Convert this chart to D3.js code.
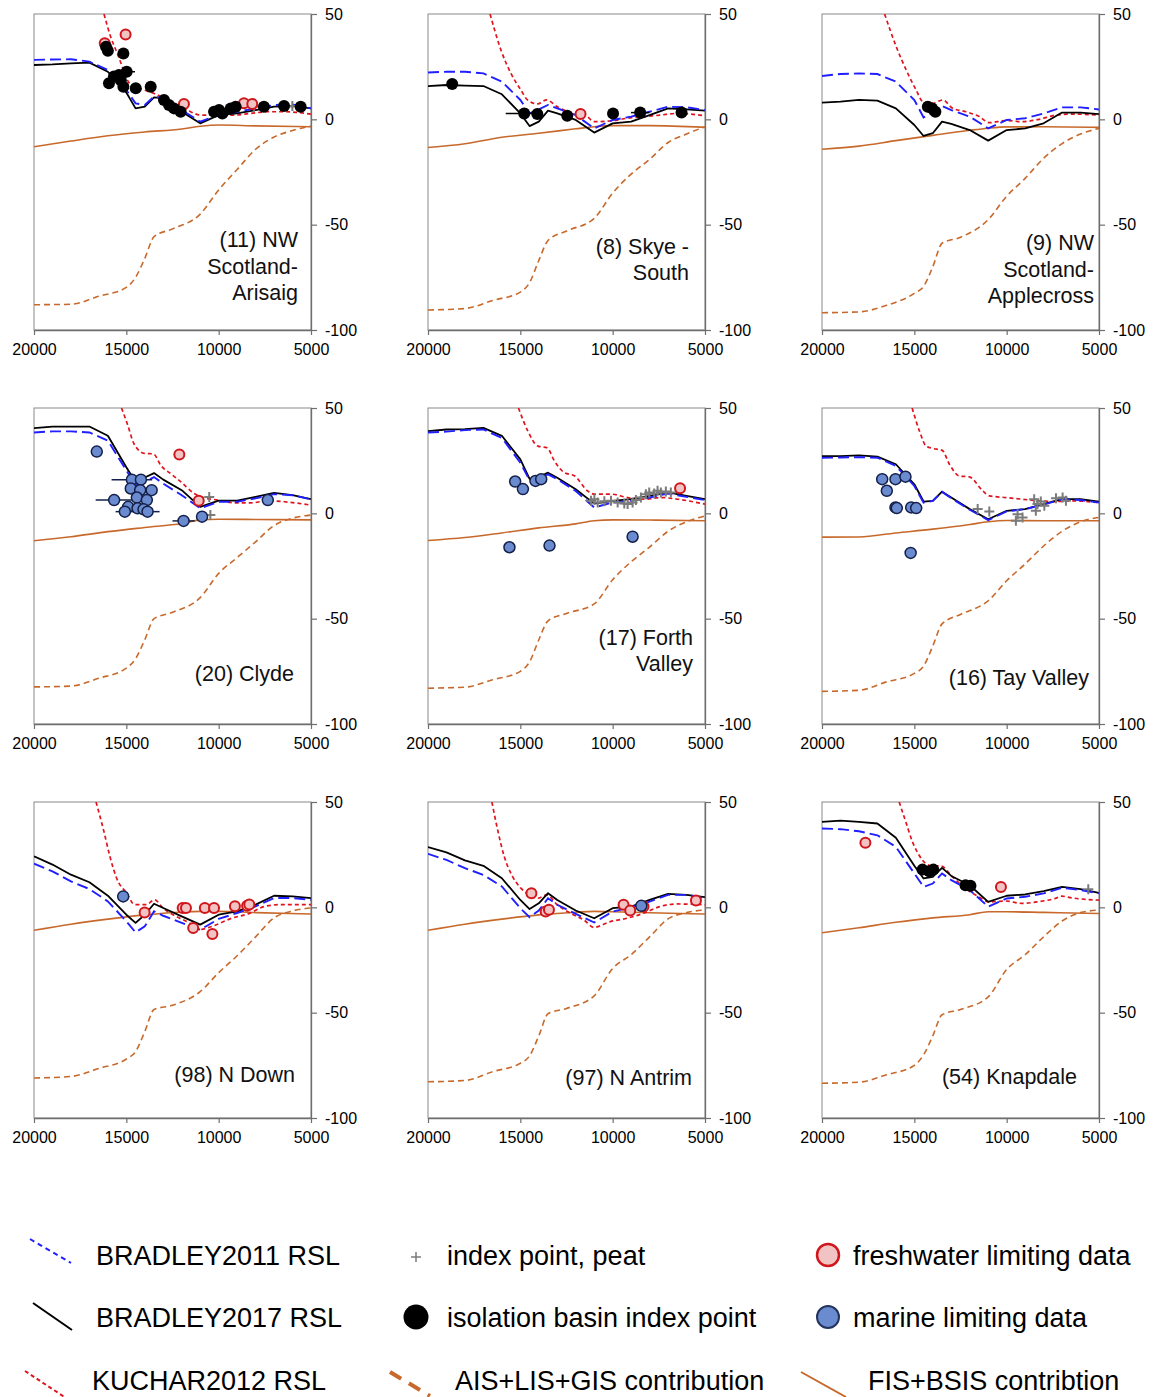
<!DOCTYPE html>
<html><head><meta charset="utf-8">
<script src="https://cdn.jsdelivr.net/npm/d3@7"></script>
<style>
body{margin:0;background:#fff;}
svg{display:block;font-family:"Liberation Sans",Arial,Helvetica,sans-serif;}
</style></head><body>
<svg id="chart" width="1153" height="1397"></svg>
<script>
// Site names (one entry per panel, lines of the in-panel label)
const siteNames = [
  ["(11) NW","Scotland-","Arisaig"],
  ["(8) Skye -","South"],
  ["(9) NW","Scotland-","Applecross"],
  ["(20) Clyde"],
  ["(17) Forth","Valley"],
  ["(16) Tay Valley"],
  ["(98) N Down"],
  ["(97) N Antrim"],
  ["(54) Knapdale"]
];

// Model output ages (cal yr BP)
const modelAges = [20000,19000,18000,17000,16000,15000,14500,14000,13500,13000,12000,11000,10000,9000,8000,7000,6000,5000];

// BRADLEY2017 RSL (m)
const bradley2017 = [
  [25.8,26.1,26.6,26.9,22.6,12.7,5.2,6.0,10.4,10.0,3.6,-1.9,2.0,2.8,4.4,6.0,6.3,5.2],
  [15.8,16.3,16.0,15.8,11.9,2.8,-3.2,-1.1,4.1,2.8,-0.3,-6.3,-1.9,-1.1,2.0,5.2,4.7,4.1],
  [7.9,8.4,9.2,8.9,5.2,-2.7,-7.9,-6.6,-1.1,-2.2,-5.1,-10.1,-5.1,-4.3,-1.9,3.2,3.2,2.5],
  [40.4,41.2,41.2,41.2,36.8,21.9,14.9,17.0,19.1,16.0,11.0,3.1,6.0,6.0,7.8,9.7,8.6,6.7],
  [39.0,39.8,40.0,40.6,36.8,25.6,16.4,17.2,19.3,16.9,11.4,4.6,5.9,6.7,8.3,9.9,8.3,6.7],
  [27.2,27.2,27.5,26.9,23.3,13.8,5.6,5.9,10.3,7.5,2.0,-2.8,1.2,2.0,4.4,6.7,6.7,5.6],
  [24.2,20.3,15.5,11.9,5.5,-3.5,-7.4,-3.5,1.7,-0.3,-4.3,-8.2,-3.5,-1.9,1.3,5.5,5.2,4.4],
  [28.6,26.1,22.3,19.7,13.8,3.5,-0.8,1.9,6.7,3.5,-1.5,-5.2,-0.4,0.4,3.5,6.4,5.9,4.8],
  [40.6,41.2,40.6,39.8,33.0,19.7,13.7,14.5,18.7,14.9,10.5,2.6,5.5,6.1,7.7,9.7,8.6,6.9]
];

// BRADLEY2011 RSL (m)
const bradley2011 = [
  [28.2,28.4,28.5,27.4,23.4,13.9,7.6,6.8,10.8,10.0,4.4,-1.1,2.0,3.6,5.2,6.8,7.1,5.2],
  [22.2,22.6,22.6,21.8,17.9,9.2,2.8,4.7,6.8,5.2,2.0,-4.3,-0.3,1.3,3.6,6.0,5.7,4.4],
  [20.6,21.5,21.8,21.5,17.9,9.2,0.9,3.2,6.3,4.4,1.3,-4.3,-0.3,0.5,2.8,5.7,5.7,4.7],
  [38.4,38.9,38.9,38.4,34.5,20.4,13.3,14.9,17.2,14.1,8.6,2.4,5.5,5.5,7.1,9.1,8.6,6.6],
  [38.4,38.8,39.5,39.8,35.8,24.0,15.7,16.2,18.5,16.2,10.6,2.8,5.1,5.9,7.5,9.4,7.8,6.3],
  [26.4,26.5,26.7,26.4,22.5,13.0,5.1,5.9,10.2,7.2,1.7,-3.2,0.9,2.0,4.1,6.7,6.3,5.1],
  [20.7,17.1,12.3,8.7,2.8,-6.6,-11.9,-9.0,-1.9,-4.0,-7.4,-10.6,-5.5,-2.7,0.5,4.4,4.4,3.6],
  [25.4,22.5,18.6,15.4,9.9,-0.4,-4.7,-1.5,4.3,1.2,-3.1,-7.2,-2.0,0.0,2.7,5.9,5.9,4.3],
  [37.4,37.1,36.1,34.2,28.7,16.1,9.7,11.3,16.1,12.9,8.2,0.3,4.2,5.0,6.6,9.3,8.2,6.6]
];

// KUCHAR2012 RSL, [age, m]
const kuchar2012 = [
  [[16210,50],[15850,39.2],[15490,31.3],[15220,25],[14950,18.7],[14580,15.5],[14040,13.9],[13500,12.3],[12960,10],[12240,6.8],[11520,3.6],[10970,2],[10070,2],[9170,2],[8270,2.8],[7360,3.6],[6460,3.6],[5000,2.5]],
  [[16640,50],[16050,32.9],[15510,21.8],[14970,13.9],[14610,9.2],[14070,7.3],[13570,9.2],[13000,6],[12100,2.8],[11380,1.3],[11020,-1.1],[10120,-0.8],[9230,0.5],[8330,1.3],[7430,2],[6530,2.8],[5000,1.7]],
  [[16610,50],[15980,34.5],[15440,23.4],[14900,13.9],[14540,8.4],[14000,7.6],[13460,9.2],[12920,5.2],[12200,3.6],[11480,1.3],[10940,-1.6],[10040,-0.6],[9140,-1.1],[8240,0],[7330,2],[6430,2.5],[5000,2]],
  [[15260,50],[14940,42.3],[14580,32.9],[14030,28.5],[13530,28.2],[13130,22.7],[12590,18.8],[12040,14.9],[11320,9.4],[10960,7.8],[10050,6.3],[9150,5],[8250,5],[7340,6],[6440,5.5],[5000,3.9]],
  [[15100,50],[14590,39],[14050,31.9],[13550,31.1],[13150,24.8],[12610,19.3],[12070,17.8],[11350,10.6],[10990,9.1],[10090,9.1],[9190,7.5],[8290,6.7],[7390,7.5],[6490,6.7],[5000,4.4]],
  [[15120,50],[14720,39],[14360,31.9],[14000,30.8],[13490,29.9],[13100,23.3],[12560,17.7],[12020,17.3],[11300,10.7],[10940,8.3],[10040,7.5],[9140,6.7],[8240,5.9],[7330,5.6],[6430,5.9],[5000,5.1]],
  [[16640,50],[16240,36.9],[15890,24.2],[15530,13.9],[14990,6.8],[14540,1.3],[13920,1.3],[13470,3.6],[13020,-0.3],[12310,-4.3],[11590,-7.4],[11060,-10.6],[10340,-9],[9270,-5.1],[8370,-3],[7480,0.5],[6580,1.3],[5000,1.3]],
  [[16540,50],[16230,36.8],[15870,24.1],[15420,14.6],[14970,9.1],[14520,5.9],[14080,4.3],[13570,5.9],[13000,1.2],[12280,-2.8],[11560,-6],[11020,-9.5],[10130,-6.8],[9230,-5.2],[8330,-2.8],[7430,0.4],[6530,1.6],[5000,1.2]],
  [[15820,50],[15460,40.5],[15100,31.1],[14740,24.7],[14380,20.8],[14020,19.7],[13570,19.7],[12940,14.5],[12230,8.9],[11510,5],[10970,2.6],[10070,3],[9180,1.9],[8280,2.7],[7380,4.2],[7020,5.3],[6480,4.5],[5000,3.4]]
];

// AIS+LIS+GIS contribution (m)
const aisAges = [20000,18000,16500,15000,14500,14000,13500,12500,11000,10000,9000,8000,7000,6000,5000];
const aisLisGis = [
  [-88,-87.8,-84,-79.8,-75,-66,-55.7,-52,-45,-33.5,-23.8,-14.2,-8.4,-5.3,-3.2],
  [-90.5,-89.8,-86,-82,-77.5,-67,-57.5,-53,-47,-35,-26,-19,-11,-7,-3.5],
  [-91.8,-91.4,-88.3,-82.6,-79.3,-70,-58.8,-56,-47.6,-36.5,-28,-18.5,-11.5,-7,-4.3],
  [-82.4,-82,-78.3,-73.5,-69,-60,-50,-47,-40,-28.5,-21,-13.5,-5.8,-2.3,-0.8],
  [-83,-82.5,-79,-75,-70.5,-60,-51,-47.5,-43,-31.5,-23,-16,-8.5,-4,-1.2],
  [-84.5,-84,-80,-76,-72.5,-63,-52.5,-48,-41.5,-32,-24,-15.5,-8.5,-4,-1.9],
  [-81,-80.3,-76.5,-72,-68.5,-59,-48.5,-46.5,-40,-31,-23,-14,-5,-1.7,-0.3],
  [-82.8,-82.2,-78,-74,-70.5,-61,-50.5,-48,-42,-29,-22.5,-14,-5.5,-2.5,-1.2],
  [-83.5,-83,-79.5,-75,-70,-61,-51,-48.5,-42.5,-29.5,-22.5,-14,-6.5,-2.5,-1.3]
];

// FIS+BSIS contribution (m)
const fisAges = [20000,18000,16000,14000,12000,11000,10000,8000,5000];
const fisBsis = [
  [-13,-10.3,-7.8,-6,-4.6,-3.3,-2.7,-3.1,-3.5],
  [-13.4,-11.6,-8.5,-6.6,-4.5,-3.5,-3,-3,-3.8],
  [-14.2,-12.7,-10.1,-7.6,-5.2,-4.2,-3.6,-3.5,-3.8],
  [-13,-11.1,-8.7,-6.7,-4.8,-3.1,-2.8,-2.9,-3.1],
  [-12.9,-11.5,-9.3,-6.9,-5,-3.5,-3.1,-3.2,-3.5],
  [-11.3,-11.2,-9.3,-7.5,-5.3,-4,-3.4,-3.5,-3.5],
  [-10.9,-8,-5.6,-3.6,-2.2,-1.9,-1.9,-2.5,-3.2],
  [-10.9,-8,-5.6,-3.6,-2.3,-1.9,-2.1,-2.6,-3.2],
  [-12.1,-9.7,-7.1,-5,-3.5,-2.1,-2.1,-2.4,-2.9]
];

// Observations: [age, m, optional half-width of age error]
const peatIndex = [
  [[8090,6],[6010,6.3]],
  [],
  [],
  [[10510,7.8],[10450,-0.8]],
  [[11170,6],[10990,6.7],[10810,5.2],[10450,5.7],[10090,6],[9730,5.2],[9370,4.7],[9190,4.4],[8920,5.2],[8740,6.3],[8470,7.5],[8200,9.1],[8020,9.9],[7750,9.4],[7570,10.7],[7390,9.9],[7120,10.4],[6850,9.9]],
  [[11570,2],[10940,0.9],[9410,-0.4],[9500,-3.5],[9140,-2],[8510,6.7],[8330,4.4],[8420,1.2],[8150,5.6],[7960,3.6],[7330,7.2],[6970,7.5],[6790,6]],
  [],
  [],
  [[5580,8.6]]
];
const freshwaterLimiting = [
  [[16170,36.1],[15040,40.3],[11880,7.3],[8630,7.6],[8180,7.3]],
  [[11740,2.5]],
  [],
  [[12130,27.9],[11080,6]],
  [[6350,11.9]],
  [],
  [[14010,-2.4],[11950,-0.3],[11770,-0.3],[10750,-0.3],[10250,-0.3],[11380,-9.8],[10340,-12.7],[9120,0.5],[8460,0.8],[8340,1.3]],
  [[14400,6.7],[13630,-2],[13450,-1.2],[9410,1.2],[9050,-1.5],[8330,0.4],[5490,3.2]],
  [[17650,30.7],[10310,9.7]]
];
const marineLimiting = [
  [],
  [],
  [],
  [[16600,29.3],[14700,16,1100],[14210,16],[14760,11.8],[14250,11],[13630,11],[15660,6.3,1000],[14430,7.5],[13890,6.3],[14900,3.1],[15080,0.8,500],[14390,2.4],[14070,1.9],[13850,0.8,650],[11900,-3.6,600],[10900,-1.6],[7340,6.3]],
  [[15280,15.1],[14860,11.5],[14180,15.4],[13870,16.2],[15590,-16.1],[13420,-15.3],[8920,-11.1]],
  [[16740,16.2],[16490,10.7],[16020,16.2],[15480,17.4],[16020,2.8],[15950,2.5],[15170,2.8],[14900,2.5],[15200,-18.8]],
  [[15170,5.2]],
  [[8450,0.7]],
  []
];
const isolationBasin = [
  [[16100,34.5],[16000,32.5],[15160,31.3],[15940,17.1],[15670,20.3],[15400,21],[14980,22.6,450],[15160,15.5],[15300,18.5],[14490,14.7],[13680,15.5],[12960,9.2],[12690,6.8],[12420,5.2],[12060,3.6],[10250,3.6],[9980,4.4],[9800,2.8],[9350,5.2],[9080,6],[7550,6],[6460,6.3],[5560,6]],
  [[18690,16.8],[14790,2.8,1000],[14080,2.5],[12460,1.7],[9980,2.8],[8510,3.2,500],[6270,3.2]],
  [[14270,6],[14040,5.2],[13860,3.6]],
  [],
  [],
  [],
  [],
  [],
  [[14560,17.9],[14200,17.1],[13970,17.9],[12230,10.5],[11960,10.2]]
];

const xTicks = [20000,15000,10000,5000];
const yTicks = [50,0,-50,-100];

const legendItems = [
  {label:"BRADLEY2011 RSL", kind:"b2011"},
  {label:"index point, peat", kind:"peat"},
  {label:"freshwater limiting data", kind:"fresh"},
  {label:"BRADLEY2017 RSL", kind:"b2017"},
  {label:"isolation basin index point", kind:"iso"},
  {label:"marine limiting data", kind:"marine"},
  {label:"KUCHAR2012 RSL", kind:"kuchar"},
  {label:"AIS+LIS+GIS contribution", kind:"ais"},
  {label:"FIS+BSIS contribtion", kind:"fis"}
];

// ---- styling / layout ----
const C = {
  blue:"#1f1fff", black:"#000", red:"#e0141e", orange:"#c8692c",
  freshFill:"#f1c3c3", freshStroke:"#d0161c",
  marineFill:"#6a8bd0", marineStroke:"#14204a",
  peat:"#7b7b7b", frame:"#8a8a8a", axis:"#6e6e6e"
};
const colLeft = [34, 428, 822];
const rowTop = [14, 408, 802];
const W = 277, H = 316;
// label placement: [distance from right edge, baseline of last line below top]
const labelPos = [[13,286],[16,266],[5,289],[17,273],[12,263],[10,277],[16,280],[13,283],[22,282]];

const svg = d3.select("#chart");

siteNames.forEach((name, i) => {
  const gx = colLeft[i % 3], gy = rowTop[Math.floor(i / 3)];
  const g = svg.append("g").attr("transform", `translate(${gx},${gy})`);
  const x = d3.scaleLinear().domain([20000, 5000]).range([0, W]);
  const y = d3.scaleLinear().domain([-100, 50]).range([H, 0]);

  const clipId = "clip" + i;
  g.append("clipPath").attr("id", clipId).append("rect")
    .attr("x", 0).attr("y", 0).attr("width", W).attr("height", H);

  // frame
  g.append("rect").attr("x", 0).attr("y", 0).attr("width", W).attr("height", H)
    .attr("fill", "none").attr("stroke", C.frame).attr("stroke-width", 1);

  const plot = g.append("g").attr("clip-path", `url(#${clipId})`);

  const lineLin = d3.line().x(d => x(d[0])).y(d => y(d[1]));
  const lineSmooth = d3.line().x(d => x(d[0])).y(d => y(d[1])).curve(d3.curveMonotoneX);

  plot.append("path").datum(aisAges.map((a, k) => [a, aisLisGis[i][k]]))
    .attr("d", lineSmooth).attr("fill", "none").attr("stroke", C.orange)
    .attr("stroke-width", 1.6).attr("stroke-dasharray", "6,4");
  plot.append("path").datum(fisAges.map((a, k) => [a, fisBsis[i][k]]))
    .attr("d", lineSmooth).attr("fill", "none").attr("stroke", C.orange)
    .attr("stroke-width", 1.6);
  plot.append("path").datum(kuchar2012[i])
    .attr("d", lineSmooth).attr("fill", "none").attr("stroke", C.red)
    .attr("stroke-width", 1.7).attr("stroke-dasharray", "4,3");
  plot.append("path").datum(modelAges.map((a, k) => [a, bradley2017[i][k]]))
    .attr("d", lineLin).attr("fill", "none").attr("stroke", C.black)
    .attr("stroke-width", 1.8).attr("stroke-linejoin", "round");
  plot.append("path").datum(modelAges.map((a, k) => [a, bradley2011[i][k]]))
    .attr("d", lineLin).attr("fill", "none").attr("stroke", C.blue)
    .attr("stroke-width", 1.9).attr("stroke-dasharray", "11,5");

  // age error bars
  const errs = [
    ...marineLimiting[i].filter(d => d[2]).map(d => ({d, c: C.marineStroke})),
    ...isolationBasin[i].filter(d => d[2]).map(d => ({d, c: C.black}))
  ];
  plot.selectAll(".err").data(errs).join("line")
    .attr("x1", e => x(e.d[0] + e.d[2])).attr("x2", e => x(e.d[0] - e.d[2]))
    .attr("y1", e => y(e.d[1])).attr("y2", e => y(e.d[1]))
    .attr("stroke", e => e.c).attr("stroke-width", 1.5);

  // observations
  plot.selectAll(".peat").data(peatIndex[i]).join("path")
    .attr("d", d => `M${x(d[0]) - 5},${y(d[1])}h10M${x(d[0])},${y(d[1]) - 5}v10`)
    .attr("stroke", C.peat).attr("stroke-width", 2).attr("fill", "none");
  plot.selectAll(".fresh").data(freshwaterLimiting[i]).join("circle")
    .attr("cx", d => x(d[0])).attr("cy", d => y(d[1])).attr("r", 5)
    .attr("fill", C.freshFill).attr("stroke", C.freshStroke).attr("stroke-width", 2);
  plot.selectAll(".marine").data(marineLimiting[i]).join("circle")
    .attr("cx", d => x(d[0])).attr("cy", d => y(d[1])).attr("r", 5.5)
    .attr("fill", C.marineFill).attr("stroke", C.marineStroke).attr("stroke-width", 1.5);
  plot.selectAll(".iso").data(isolationBasin[i]).join("circle")
    .attr("cx", d => x(d[0])).attr("cy", d => y(d[1])).attr("r", 6)
    .attr("fill", C.black);

  // axes
  const ax = g.append("g").attr("transform", `translate(0,${H})`)
    .call(d3.axisBottom(x).tickValues(xTicks).tickFormat(d => String(d))
      .tickSize(5).tickSizeOuter(0).tickPadding(9));
  const ay = g.append("g").attr("transform", `translate(${W},0)`)
    .call(d3.axisRight(y).tickValues(yTicks).tickFormat(d => String(d))
      .tickSize(6).tickSizeOuter(0).tickPadding(8));
  [ax, ay].forEach(a => {
    a.select(".domain").attr("stroke", C.axis).attr("stroke-width", 1.3);
    a.selectAll(".tick line").attr("stroke", C.axis).attr("stroke-width", 1.2);
    a.selectAll(".tick text").attr("fill", "#000").style("font-size", "16px")
      .style("font-family", '"Liberation Sans",Arial,sans-serif');
  });

  // site label
  const [dx, base] = labelPos[i];
  const t = g.append("text").attr("text-anchor", "end").style("font-size", "21.5px").attr("fill", "#111");
  name.forEach((ln, k) => {
    t.append("tspan").attr("x", W - dx).attr("y", base - (name.length - 1 - k) * 26.5).text(ln);
  });
});

// ---- legend ----
const legX = [[96, 447, 853], [96, 447, 853], [92, 455, 868]];
const legY = [1265, 1327, 1390];
const leg = svg.append("g");
legendItems.forEach((it, k) => {
  const r = Math.floor(k / 3), c = k % 3;
  leg.append("text").attr("x", legX[r][c]).attr("y", legY[r])
    .style("font-size", "27px").attr("fill", "#000").text(it.label);
});
const diag = (x1, y1, x2, y2, stroke, w, dash) => {
  const l = leg.append("line").attr("x1", x1).attr("y1", y1).attr("x2", x2).attr("y2", y2)
    .attr("stroke", stroke).attr("stroke-width", w);
  if (dash) l.attr("stroke-dasharray", dash);
};
diag(30, 1239, 71, 1263, C.blue, 2, "5,4");
diag(33, 1303, 72, 1330, C.black, 2);
diag(25, 1371, 66, 1398, C.red, 2, "4,3");
diag(390, 1372, 430, 1396, C.orange, 4, "13,9");
diag(801, 1372, 846, 1397, C.orange, 2);
leg.append("path").attr("d", "M411,1257h10M416,1252v10").attr("stroke", C.peat).attr("stroke-width", 1.5);
leg.append("circle").attr("cx", 416).attr("cy", 1317).attr("r", 12.5).attr("fill", "#000");
leg.append("circle").attr("cx", 828).attr("cy", 1255).attr("r", 11)
  .attr("fill", C.freshFill).attr("stroke", C.freshStroke).attr("stroke-width", 2.5);
leg.append("circle").attr("cx", 828).attr("cy", 1317).attr("r", 11)
  .attr("fill", C.marineFill).attr("stroke", "#23345e").attr("stroke-width", 2);
</script>
</body></html>
